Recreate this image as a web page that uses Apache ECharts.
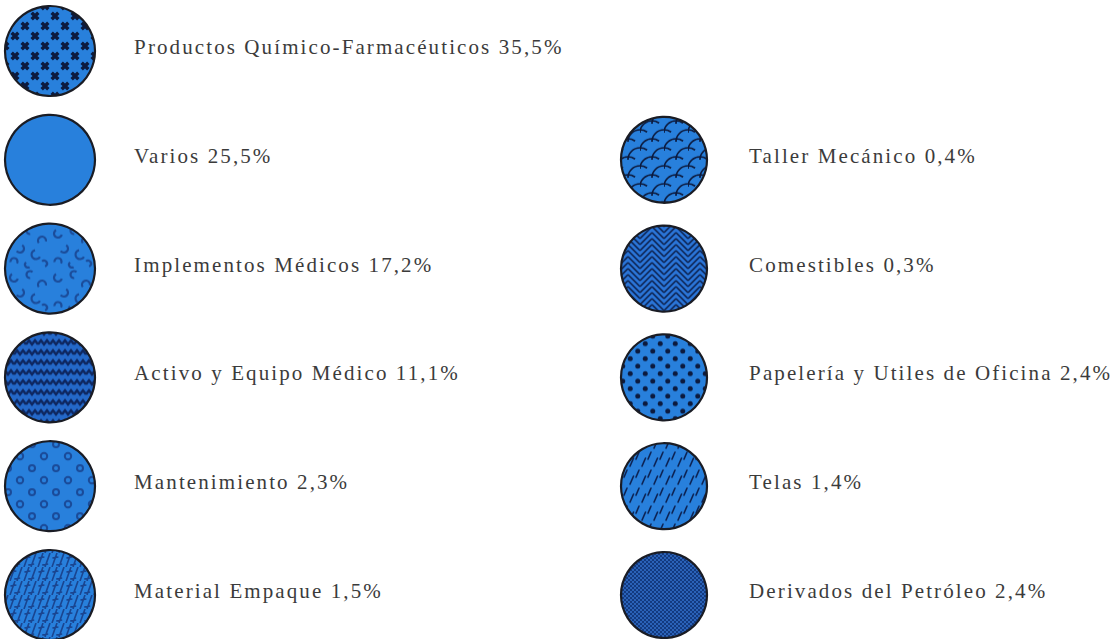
<!DOCTYPE html>
<html>
<head>
<meta charset="utf-8">
<script src="https://cdn.jsdelivr.net/npm/echarts@6/dist/echarts.min.js"></script>
<style>
  html, body { margin: 0; padding: 0; background: #ffffff; }
  #rubros { width: 1115px; height: 639px; letter-spacing: 2.1px; }
</style>
</head>
<body>
<div id="rubros"></div>
<script>
// rubros y su participación (%)
const categories = [
  'Productos Químico-Farmacéuticos', 'Varios', 'Implementos Médicos',
  'Activo y Equipo Médico', 'Mantenimiento', 'Material Empaque',
  'Taller Mecánico', 'Comestibles', 'Papelería y Utiles de Oficina',
  'Telas', 'Derivados del Petróleo'
]
const shares = [35.5, 25.5, 17.2, 11.1, 2.3, 1.5, 0.4, 0.3, 2.4, 1.4, 2.4]
const columns = ['izq', 'izq', 'izq', 'izq', 'izq', 'izq', 'der', 'der', 'der', 'der', 'der']
const rows = ['f1', 'f2', 'f3', 'f4', 'f5', 'f6', 'f2', 'f3', 'f4', 'f5', 'f6']
const columnNames = ['izq', 'der']
const rowNames = ['f1', 'f2', 'f3', 'f4', 'f5', 'f6']

const BLUE = '#2880dc'
const INK = '#0c1a3e'

function tile (w, h, bg, draw) {
  let c = document.createElement('canvas')
  c.width = w
  c.height = h
  let ctx = c.getContext('2d')
  ctx.fillStyle = bg
  ctx.fillRect(0, 0, w, h)
  draw(ctx, w, h)
  return { image: c, repeat: 'repeat', imageWidth: w, imageHeight: h }
}

// una trama por rubro, en el mismo orden que categories
const patterns = [
  // cruces
  tile(20, 20, BLUE, ctx => {
    ctx.strokeStyle = INK; ctx.lineWidth = 3.4; ctx.lineCap = 'butt'
    for (let [x, y] of [[5, 5], [15, 15]]) {
      ctx.beginPath()
      ctx.moveTo(x - 3.3, y - 3.3); ctx.lineTo(x + 3.3, y + 3.3)
      ctx.moveTo(x + 3.3, y - 3.3); ctx.lineTo(x - 3.3, y + 3.3)
      ctx.stroke()
    }
  }),
  // liso
  BLUE,
  // manchas
  tile(44, 44, BLUE, ctx => {
    ctx.strokeStyle = '#1b4c9a'; ctx.lineWidth = 2.2
    let arcs = [[8, 9, 4, 0.3, 4.2], [24, 6, 3.5, 1.5, 5.5], [36, 16, 4, 2.5, 6.5],
      [14, 24, 4, -1, 2.5], [30, 30, 4.5, 0.5, 4.5], [8, 37, 3.5, 3, 6.8],
      [22, 40, 3, 1, 4], [38, 39, 3, 4, 7.5]]
    for (let a of arcs) {
      ctx.beginPath(); ctx.arc(a[0], a[1], a[2], a[3], a[4]); ctx.stroke()
    }
  }),
  // tejido
  tile(12, 10, '#2468c8', ctx => {
    ctx.strokeStyle = '#0e2760'; ctx.lineWidth = 2.4
    ctx.beginPath()
    ctx.moveTo(0, 7); ctx.lineTo(3, 3); ctx.lineTo(6, 7); ctx.lineTo(9, 3); ctx.lineTo(12, 7)
    ctx.stroke()
  }),
  // anillos
  tile(24, 24, BLUE, ctx => {
    ctx.strokeStyle = '#1a4a98'; ctx.lineWidth = 2
    ctx.beginPath(); ctx.arc(6, 6, 3, 0, Math.PI * 2); ctx.stroke()
    ctx.beginPath(); ctx.arc(18, 18, 3.2, 0, Math.PI * 2); ctx.stroke()
  }),
  // ladrillos
  tile(14, 14, BLUE, ctx => {
    ctx.strokeStyle = '#1a4590'; ctx.lineWidth = 1.6
    ctx.beginPath()
    for (let x of [-12, -5, 2, 9, 16]) { ctx.moveTo(x, 14); ctx.lineTo(x + 5, 0) }
    ctx.moveTo(2.4, 5); ctx.lineTo(8.4, 4)
    ctx.moveTo(6.2, 12); ctx.lineTo(12.2, 11)
    ctx.stroke()
  }),
  // escamas
  tile(24, 18, BLUE, ctx => {
    ctx.strokeStyle = INK; ctx.lineWidth = 1.7
    for (let [x, y] of [[0, 18], [24, 18], [12, 9], [0, 0], [24, 0], [12, 27]]) {
      ctx.beginPath(); ctx.arc(x, y, 12, Math.PI * 1.0, Math.PI * 1.7); ctx.stroke()
    }
  }),
  // espiga
  tile(24, 24, '#2a74d6', ctx => {
    ctx.strokeStyle = '#0c1f4a'; ctx.lineWidth = 1.5
    ctx.save(); ctx.beginPath(); ctx.rect(0, 0, 12, 24); ctx.clip()
    ctx.beginPath()
    for (let k = -24; k <= 36; k += 6) { ctx.moveTo(0, k + 12); ctx.lineTo(12, k) }
    ctx.stroke(); ctx.restore()
    ctx.save(); ctx.beginPath(); ctx.rect(12, 0, 12, 24); ctx.clip()
    ctx.beginPath()
    for (let k = -24; k <= 36; k += 6) { ctx.moveTo(12, k); ctx.lineTo(24, k + 12) }
    ctx.stroke(); ctx.restore()
  }),
  // puntos
  tile(15, 15, BLUE, ctx => {
    ctx.fillStyle = INK
    for (let [x, y] of [[3.75, 3.75], [11.25, 11.25]]) {
      ctx.beginPath(); ctx.arc(x, y, 2.5, 0, Math.PI * 2); ctx.fill()
    }
  }),
  // rayas
  tile(12, 18, BLUE, ctx => {
    ctx.strokeStyle = '#0c2050'; ctx.lineWidth = 1.6; ctx.lineCap = 'round'
    ctx.beginPath()
    ctx.moveTo(2, 16); ctx.lineTo(5.5, 8)
    ctx.moveTo(8, 9); ctx.lineTo(11, 2)
    ctx.stroke()
  }),
  // trama fina
  tile(4, 4, '#2a62b8', ctx => {
    ctx.fillStyle = '#133a80'
    ctx.fillRect(0, 0, 2, 2); ctx.fillRect(2, 2, 2, 2)
  })
]

// el símbolo se dibuja en -1..1 y se escala, así que la trama se compensa
function fillFor (pat, size) {
  if (typeof pat === 'string') return pat
  return Object.assign({}, pat, { scaleX: 2 / size, scaleY: 2 / size })
}

function pct (v) {
  return v.toFixed(1).replace('.', ',') + '%'
}

let seriesData = categories.map((name, i) => {
  let size = columns[i] === 'izq' ? 90 : 86
  return {
    name: name,
    value: [columns[i], rows[i], shares[i]],
    symbolSize: size,
    itemStyle: { color: fillFor(patterns[i], size) },
    label: { distance: columns[i] === 'izq' ? 38 : 41 }
  }
})

let myChart = echarts.init(document.getElementById('rubros'), null, { renderer: 'svg' })
let option = {
  animation: false,
  grid: { left: 50, right: 451, top: 51, bottom: 44 },
  xAxis: { type: 'category', data: columnNames, boundaryGap: false, show: false },
  yAxis: { type: 'category', data: rowNames, boundaryGap: false, inverse: true, show: false },
  series: [
    {
      type: 'scatter',
      symbol: 'circle',
      data: seriesData,
      itemStyle: { borderColor: '#1a1c24', borderWidth: 2.2, opacity: 1 },
      label: {
        show: true,
        position: 'right',
        offset: [0, -4],
        fontFamily: 'Liberation Serif',
        fontSize: 21,
        color: '#3b3b3b',
        formatter: p => p.name + ' ' + pct(p.value[2])
      },
      emphasis: { disabled: true }
    }
  ]
}
myChart.setOption(option, true)
</script>
</body>
</html>
